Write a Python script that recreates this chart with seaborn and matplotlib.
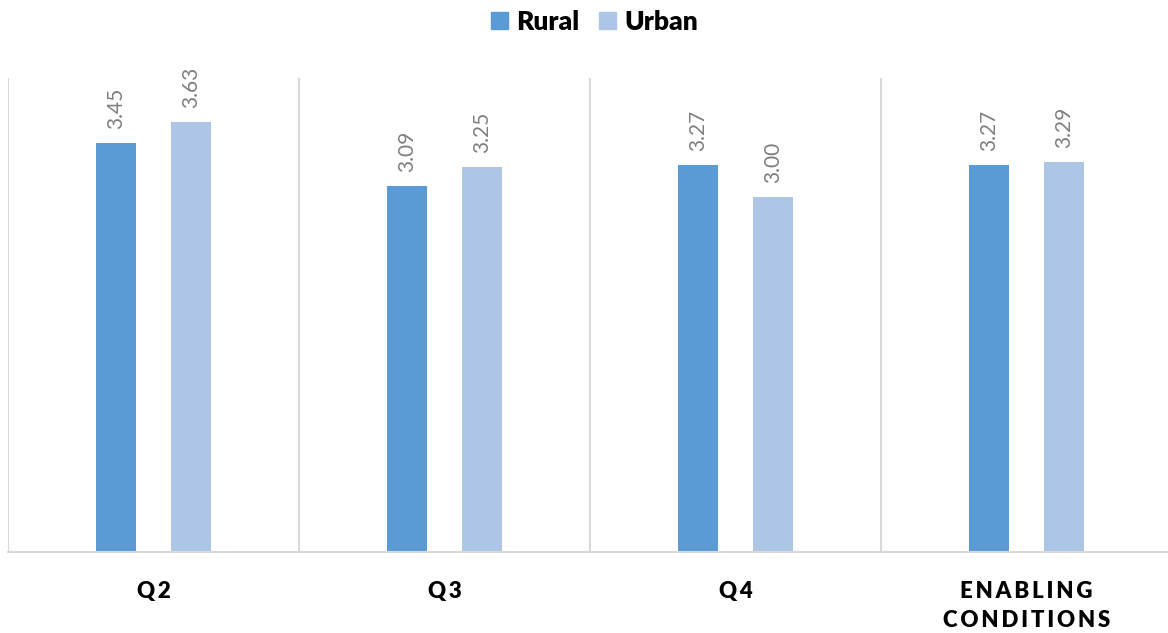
import matplotlib
matplotlib.use("Agg")
import matplotlib.pyplot as plt
import seaborn as sns
import pandas as pd
import numpy as np

categories = ["Q2", "Q3", "Q4", "ENABLING CONDITIONS"]
rural = [3.45, 3.09, 3.27, 3.27]
urban = [3.63, 3.25, 3.00, 3.29]
series_names = ["Rural", "Urban"]
colors = ["#5B9BD5", "#ADC6E6"]

sns.set_theme(style="white")
plt.rcParams["font.family"] = ["Lato", "DejaVu Sans"]

df = pd.DataFrame({
    "cat": categories * 2,
    "val": rural + urban,
    "area": [series_names[0]] * 4 + [series_names[1]] * 4,
})

fig = plt.figure(figsize=(11.68, 6.33), dpi=100)
ax = fig.add_axes([8 / 1168, 81 / 633, 1164 / 1168, 474 / 633])

sns.barplot(data=df, x="cat", y="val", hue="area", order=categories,
            hue_order=series_names, palette=colors, width=0.52, gap=0.47,
            dodge=True, linewidth=0, saturation=1, errorbar=None, ax=ax,
            legend=False)

ax.set_ylim(0, 4)
ax.set_xlim(-0.5, len(categories) - 0.5)

# value labels
for cont in ax.containers:
    ax.bar_label(cont, fmt="%.2f", rotation=90, padding=10, color="#7F7F7F",
                 fontsize=15)

# category separators
ax.set_xticks(np.arange(-0.5, len(categories), 1.0), minor=True)
ax.grid(which="minor", axis="x", color="#D9D9D9", linewidth=1.5)
ax.grid(which="major", visible=False)
ax.tick_params(axis="x", which="both", length=0)
ax.tick_params(axis="x", which="major", pad=21)

def spaced(s):
    return "\n".join("\u2009".join(w) for w in s.split(" "))

ax.set_xticks(range(len(categories)))
ax.set_xticklabels([spaced(c) for c in categories], fontsize=16,
                   fontweight="heavy", color="#000000", linespacing=1.45)
ax.set_yticks([])
ax.set_xlabel("")
ax.set_ylabel("")
for s in ["top", "right", "left"]:
    ax.spines[s].set_visible(False)
ax.spines["bottom"].set_color("#D9D9D9")
ax.spines["bottom"].set_linewidth(1.5)

handles = [plt.Rectangle((0, 0), 1, 1, color=c) for c in colors]
fig.legend(handles, series_names, loc="upper center", bbox_to_anchor=(0.509, 1.022),
           ncol=2, frameon=False, prop={"weight": "heavy", "size": 19},
           labelcolor="#000000",
           handlelength=0.65, handleheight=0.65, handletextpad=0.3,
           columnspacing=0.75)

fig.savefig("out.png", dpi=100)
